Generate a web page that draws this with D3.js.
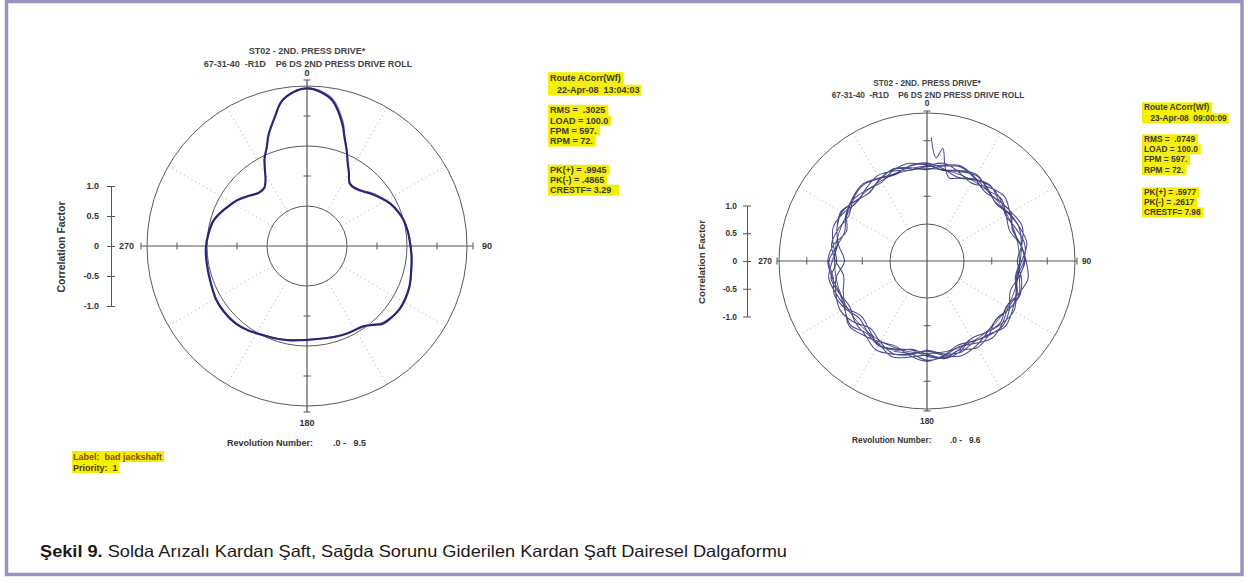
<!DOCTYPE html>
<html><head><meta charset="utf-8">
<script src="https://cdn.jsdelivr.net/npm/d3@7"></script>
<style>
body{margin:0;background:#fff}
svg{display:block}
text{font-family:"Liberation Sans",Arial,Helvetica,sans-serif;white-space:pre}
</style>
</head><body>
<svg id="c" width="1248" height="583"></svg>
<script>
// ---------------- DATA ----------------
const axisTickValues = [1, 0.5, 0, -0.5, -1];
const axisTickLabels = ["1.0", "0.5", "0", "-0.5", "-1.0"];
const angleLabels = ["0", "90", "180", "270"];
const spokeAngles = [30, 60, 120, 150, 210, 240, 300, 330];
const ringValues = [-1, 0, 1];

const titleLine1 = "ST02 - 2ND. PRESS DRIVE*";
const titleLine2 = "67-31-40  -R1D    P6 DS 2ND PRESS DRIVE ROLL";
const yAxisTitle = "Correlation Factor";
const revLabel = "Revolution Number:";

// Left chart (bad jackshaft) - angle (deg) and correlation factor
const leftAngles = [0,5,10,16,19,22.5,26,30,34,38,46,50,57,63,70,75,82,88,95,100,112,124,130,136,140,145,155,162,170,180,190,198,206,215,223,232,240,250,260,269,277,285,291,297,303,309,314,318,324,328,331,334,338,341,346,350,355];
const leftValues = [0.96,0.91,0.79,0.46,0.25,0.06,-0.12,-0.27,-0.40,-0.42,-0.36,-0.30,-0.20,-0.11,-0.04,0.00,0.03,0.05,0.08,0.10,0.17,0.20,0.18,0.14,0.05,-0.03,-0.06,-0.08,-0.10,-0.10,-0.07,-0.04,-0.01,0.05,0.09,0.10,0.09,0.05,0.03,0.02,-0.01,-0.05,-0.12,-0.20,-0.27,-0.36,-0.43,-0.47,-0.46,-0.36,-0.22,-0.05,0.12,0.30,0.55,0.78,0.91];
const leftValues2 = [0.97,0.93,0.82,0.50,0.27,0.07,-0.11,-0.26,-0.39,-0.41,-0.35,-0.28,-0.18,-0.10,-0.03,0.01,0.04,0.06,0.09,0.11,0.18,0.21,0.17,0.12,0.04,-0.04,-0.07,-0.09,-0.11,-0.11,-0.08,-0.05,-0.02,0.04,0.08,0.09,0.08,0.04,0.02,0.01,-0.02,-0.06,-0.13,-0.21,-0.28,-0.37,-0.44,-0.48,-0.47,-0.37,-0.23,-0.06,0.11,0.29,0.54,0.77,0.90];

// Right chart (repaired) - start transient then revolutions sampled every 10 deg
const rightStartAngles = [2, 5, 8, 11, 15];
const rightStartValues = [0.56, 0.20, 0.38, 0.05, -0.12];
const rightRev1 = [-0.08,0.02,0.10,0.06,-0.03,0.04,0.12,0.08,-0.02,0.05,0.14,0.09,0.01,-0.06,0.03,0.11,0.05,-0.04,0.02,0.08,-0.05,-0.12,0.01,0.07,0.13,0.04,-0.03,0.06,0.10,0.02,-0.06,0.04,0.09,0.03]; // 20..350
const rightRev2 = [0.05,0.12,0.03,-0.05,0.07,0.15,0.06,-0.02,0.04,0.10,0.01,-0.07,0.05,0.13,0.08,0.00,-0.05,0.06,0.14,0.07,-0.03,0.02,0.09,0.16,0.04,-0.06,-0.14,-0.02,0.08,0.03,-0.04,0.07,0.12,0.05,-0.01,0.08];
const rightRev3 = [0.10,0.02,-0.06,0.04,0.11,0.03,0.09,0.16,0.07,-0.04,0.06,0.12,0.05,-0.03,0.02,0.10,0.15,0.06,-0.04,0.03,0.11,0.02,-0.08,0.05,0.13,0.08,-0.01,-0.18,-0.05,0.06,0.12,0.01,-0.05,0.03,0.10,0.04];
const rightRev4 = [-0.02,0.07,0.13,0.05,-0.04,0.02,0.08,-0.03,0.05,0.12,0.18,0.08,-0.02,0.06,0.01,-0.06,0.07,0.12,0.03,0.09,0.17,0.06,0.00,-0.07,0.04,0.11,0.05,0.10,-0.03,-0.09,0.02,0.09,0.14,0.06,0.01,0.07];
const rightRev5 = [0.08,-0.01,0.05,0.11,0.04,-0.05,0.03,0.10,0.06,0.01,-0.05,0.04,0.11,0.17,0.06,0.02,0.09,0.03,-0.06,0.05,0.12,0.18,0.07,0.03,-0.05,0.02,0.09,-0.04,0.05,0.13,0.07,-0.02,0.04,0.11,0.06,0.00];
const rightRev6 = [0.03,0.09,0.15,0.07,0.01,0.08,-0.02,-0.08,0.04,0.09,0.03,0.10,0.05,-0.04,0.07,0.14,0.04,0.10,0.01,-0.05,0.04,0.09,0.03,0.13,0.05,0.01,0.07,0.12,0.04,-0.12,0.00,0.06,0.01,-0.03,0.08,0.12];
const rightRev7 = [0.06,0.00,0.07,0.13,0.02,-0.04,0.05,0.11,0.16,0.04,-0.03,0.06,0.02,0.10,0.15,0.05,-0.02,0.08,0.12,0.03,0.07]; // 0..200

const leftLegend = [
  ["Route ACorr(Wf)", "22-Apr-08  13:04:03"],
  ["RMS =  .3025", "LOAD = 100.0", "FPM = 597.", "RPM = 72."],
  ["PK(+) = .9945", "PK(-) = .4865", "CRESTF= 3.29"]
];
const rightLegend = [
  ["Route ACorr(Wf)", "23-Apr-08  09:00:09"],
  ["RMS =  .0749", "LOAD = 100.0", "FPM = 597.", "RPM = 72."],
  ["PK(+) = .5977", "PK(-) = .2617", "CRESTF= 7.98"]
];
const leftRevRange = ".0 -   9.5";
const rightRevRange = ".0 -   9.6";
const noteLines = ["Label:  bad jackshaft", "Priority:  1"];
const captionBold = "Şekil 9.";
const captionRest = " Solda Arızalı Kardan Şaft, Sağda Sorunu Giderilen Kardan Şaft Dairesel Dalgaformu";

// ---------------- DRAW ----------------
const svg = d3.select("#c");
const W = 1248, H = 583;
svg.append("rect").attr("width", W).attr("height", H).attr("fill", "#fff");
svg.append("rect").attr("x", 6.5).attr("y", 1.5).attr("width", 1235.5).attr("height", 573)
  .attr("fill", "none").attr("stroke", "#9b92c0").attr("stroke-width", 3.5);

const TXT = "#333";
const rad = d => d * Math.PI / 180;

function drawPolar(cfg) {
  const k = cfg.k;
  const g = svg.append("g").attr("transform", `translate(${cfg.cx},${cfg.cy})`);
  const r = d3.scaleLinear().domain([-1, 1]).range([cfg.rIn, cfg.rOut]);
  const rOut = r(1), rIn = r(-1);

  // dotted spokes
  g.selectAll("line.spoke").data(spokeAngles).join("line")
    .attr("x1", d => rIn * Math.sin(rad(d))).attr("y1", d => -rIn * Math.cos(rad(d)))
    .attr("x2", d => rOut * Math.sin(rad(d))).attr("y2", d => -rOut * Math.cos(rad(d)))
    .attr("stroke", "#b8b8b8").attr("stroke-width", 1).attr("stroke-dasharray", "1.2,3.2");

  // rings
  g.selectAll("circle.ring").data(ringValues).join("circle")
    .attr("r", d => r(d)).attr("fill", "none").attr("stroke", "#5a5a5a").attr("stroke-width", 1);

  // cross axes
  const ext = rOut + cfg.axExt;
  g.append("line").attr("x1", -ext).attr("x2", ext).attr("y1", 0).attr("y2", 0).attr("stroke", "#555").attr("stroke-width", 1.2);
  g.append("line").attr("y1", -ext).attr("y2", ext).attr("x1", 0).attr("x2", 0).attr("stroke", "#555").attr("stroke-width", 1.2);
  const tickR = [-0.5, 0.5].map(v => r(v)).concat([ext]);
  const tl = 3.5;
  tickR.forEach(t => {
    [[t, 0], [-t, 0]].forEach(([x, y]) => g.append("line").attr("x1", x).attr("x2", x).attr("y1", -tl).attr("y2", tl).attr("stroke", "#555"));
    [[0, t], [0, -t]].forEach(([x, y]) => g.append("line").attr("y1", y).attr("y2", y).attr("x1", -tl).attr("x2", tl).attr("stroke", "#555"));
  });

  // angle labels
  const fs = 9 * k;
  const lab = (t, x, y, anchor) => g.append("text").attr("x", x).attr("y", y).attr("text-anchor", anchor)
    .attr("font-size", fs).attr("font-weight", "bold").attr("fill", TXT).text(t);
  lab(angleLabels[0], 0, -rOut - cfg.lblTop, "middle");
  lab(angleLabels[1], rOut + cfg.lblSide, 3.2 * k, "start");
  lab(angleLabels[2], 0, rOut + cfg.lblBot, "middle");
  lab(angleLabels[3], -rOut - cfg.lblSideL, 3.2 * k, "end");

  // traces
  cfg.traces.forEach(tr => {
    const line = d3.lineRadial().angle(d => rad(d[0])).radius(d => r(d[1])).curve(tr.closed ? d3.curveCatmullRomClosed : d3.curveCatmullRom);
    g.append("path").attr("d", line(tr.pts)).attr("fill", "none").attr("stroke", tr.color)
      .attr("stroke-width", tr.width).attr("stroke-opacity", tr.op || 1).attr("stroke-linejoin", "round");
  });

  // titles
  svg.append("text").attr("x", cfg.cx).attr("y", cfg.t1y).attr("text-anchor", "middle").attr("font-size", fs)
    .attr("font-weight", "bold").attr("fill", "#444").text(titleLine1);
  svg.append("text").attr("x", cfg.cx + 1).attr("y", cfg.t2y).attr("text-anchor", "middle").attr("font-size", fs)
    .attr("font-weight", "bold").attr("fill", "#444").text(titleLine2);

  // linear correlation axis on the left
  const y = d3.scaleLinear().domain([-1, 1]).range([cfg.cy + (rOut - rIn) / 2, cfg.cy - (rOut - rIn) / 2]);
  const ax = svg.append("g").attr("transform", `translate(${cfg.yax},0)`)
    .call(d3.axisLeft(y).tickValues(axisTickValues).tickFormat((d, i) => axisTickLabels[i]).tickSizeInner(4).tickSizeOuter(0).tickPadding(cfg.tpad));
  ax.select(".domain").attr("stroke", "#555");
  ax.selectAll(".tick line").attr("stroke", "#555").attr("x2", 4).attr("x1", -4);
  ax.selectAll(".tick text").attr("font-size", fs).attr("font-weight", "bold").attr("fill", TXT)
    .attr("font-family", "Liberation Sans, Arial, sans-serif");
  svg.append("text").attr("transform", `translate(${cfg.ytx},${cfg.cy + 1}) rotate(-90)`).attr("text-anchor", "middle")
    .attr("dy", "0.35em").attr("font-size", 10.5 * k).attr("font-weight", "bold").attr("fill", TXT).text(yAxisTitle);

  // revolution label
  svg.append("text").attr("x", cfg.revx).attr("y", cfg.revy).attr("font-size", fs).attr("font-weight", "bold").attr("fill", TXT).text(revLabel);
  svg.append("text").attr("x", cfg.revx2).attr("y", cfg.revy).attr("font-size", fs).attr("font-weight", "bold").attr("fill", TXT).text(cfg.revRange);

  // legend with yellow highlights
  const lg = svg.append("g");
  cfg.legendY.forEach((grp, gi) => {
    grp.forEach((by, li) => {
      const txt = cfg.legend[gi][li];
      const tx = (gi === 0 && li === 1) ? cfg.lgx + 8 * k : cfg.lgx + 1;
      const t = lg.append("text").attr("x", tx).attr("y", by).attr("font-size", fs).attr("font-weight", "bold").attr("fill", "#3a3a3a").text(txt);
      const w = t.node().getComputedTextLength();
      const top = by - 8.3 * k;
      const bottom = li < grp.length - 1 ? grp[li + 1] - 8.3 * k : by + 2.6 * k;
      const extra = cfg.boxExtra[gi] ? cfg.boxExtra[gi][li] : 3;
      lg.insert("rect", "text").attr("x", cfg.lgx - 1).attr("y", top).attr("width", tx + w + extra - (cfg.lgx - 1)).attr("height", bottom - top)
        .attr("fill", "#f4ee00");
    });
  });
}

// left chart
drawPolar({
  cx: 307, cy: 246, rIn: 40, rOut: 160, k: 1, axExt: 6, lblTop: 10, lblSide: 15, lblSideL: 13, lblBot: 20,
  t1y: 54, t2y: 67, yax: 111, tpad: 8, ytx: 61,
  revx: 227, revx2: 333, revy: 446, revRange: leftRevRange,
  lgx: 549, legend: leftLegend, legendY: [[80.5, 93], [113, 124, 134, 144], [173, 183, 193]],
  boxExtra: [[3, 2], [3, 3, 3, 3], [3, 3, 8]],
  traces: [
    { pts: leftAngles.map((a, i) => [a, leftValues2[i]]), color: "#7070aa", width: 1.2, closed: true },
    { pts: leftAngles.map((a, i) => [a, leftValues[i]]), color: "#25257a", width: 2.1, closed: true }
  ]
});

// right chart continuous trace
const revs = [rightRev2, rightRev3, rightRev4, rightRev5, rightRev6, rightRev7];
const rightPts = rightStartAngles.map((a, i) => [a, rightStartValues[i]])
  .concat(rightRev1.map((v, i) => [20 + 10 * i, v]));
revs.forEach((rv, ri) => rv.forEach((v, i) => rightPts.push([360 * (ri + 1) + 10 * i, v])));

drawPolar({
  cx: 927, cy: 261, rIn: 37, rOut: 148, k: 0.925, axExt: 2, lblTop: 7, lblSide: 7, lblSideL: 7, lblBot: 15,
  t1y: 86, t2y: 97.5, yax: 747, tpad: 6, ytx: 702,
  revx: 852, revx2: 950, revy: 443, revRange: rightRevRange,
  lgx: 1143, legend: rightLegend, legendY: [[110, 121], [142, 152, 162, 172.5], [195, 205, 215]],
  boxExtra: [[3, 2], [3, 3, 3, 3], [3, 3, 3]],
  traces: [
    { pts: rightPts, color: "#2a2a7e", width: 1.05, op: 0.85, closed: false }
  ]
});

// note label bottom-left
const nb = svg.append("g");
[460, 471].forEach((by, i) => {
  const t = nb.append("text").attr("x", 73).attr("y", by).attr("font-size", 9).attr("font-weight", "bold")
    .attr("fill", i === 0 ? "#8a4a12" : "#4a3a12").text(noteLines[i]);
  const w = t.node().getComputedTextLength();
  nb.insert("rect", "text").attr("x", 72).attr("y", by - 9).attr("width", w + 3).attr("height", 11).attr("fill", "#f4ee00");
});

// caption
const cap = svg.append("text").attr("x", 40).attr("y", 557).attr("font-size", 16.5).attr("fill", "#1a1a1a");
cap.append("tspan").attr("font-weight", "bold").text(captionBold);
cap.append("tspan").text(captionRest);
cap.attr("textLength", 747).attr("lengthAdjust", "spacingAndGlyphs");
</script>
</body></html>
